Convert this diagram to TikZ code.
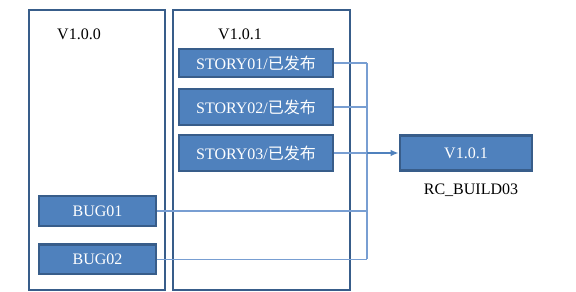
\documentclass[tikz,border=0pt]{standalone}
\usepackage{fontspec}
\setmainfont{Liberation Serif}
\newfontfamily\cjk{Noto Sans CJK SC}
\usepackage{tikz}
\usetikzlibrary{arrows.meta}
\definecolor{boxblue}{RGB}{79,129,189}
\definecolor{edgeblue}{RGB}{56,93,138}
\definecolor{wireblue}{RGB}{120,158,210}

\begin{document}
\begin{tikzpicture}[
        x=0.75pt, y=-0.75pt,
        verbox/.style={
            rectangle,
            draw=edgeblue,
            line width=2.2pt,
            inner sep=0pt
        },
        item/.style={
            rectangle,
            draw=edgeblue,
            fill=boxblue,
            line width=2pt,
            text=white,
            font=\fontsize{12}{14}\selectfont,
            inner sep=0pt
        },
        tag/.style={
            font=\fontsize{12}{14}\selectfont,
            inner sep=0pt
        },
        link/.style={wireblue, line width=0.8pt},
        arrow/.style={-{Latex[length=6pt,width=5pt]}, boxblue, line width=1.3pt}
    ]
        \useasboundingbox (0,0) rectangle (576,292);

        \node[verbox, minimum width=102pt, minimum height=210pt] (old) at (97,150) {};
        \node[verbox, minimum width=132.75pt, minimum height=210pt] (new) at (261.5,150) {};
        \node[tag] (oldname) at (79,34) {V1.0.0};
        \node[tag] (newname) at (240,34) {V1.0.1};

        \node[item, minimum width=115.5pt, minimum height=21pt] (s1) at (256,63) {STORY01/{\cjk 已发布}};
        \node[item, minimum width=115.5pt, minimum height=27pt] (s2) at (256,107) {STORY02/{\cjk 已发布}};
        \node[item, minimum width=115.5pt, minimum height=27pt] (s3) at (256,153) {STORY03/{\cjk 已发布}};
        \node[item, minimum width=87.75pt, minimum height=22.5pt] (b1) at (97.5,211) {BUG01};
        \node[item, minimum width=87.75pt, minimum height=22pt] (b2) at (97.5,259.5) {BUG02};

        \node[item, minimum width=99pt, minimum height=26pt] (rc) at (466,153) {V1.0.1};
        \node[tag] (rcname) at (471,190) {RC\_BUILD03};

        \coordinate (jn) at (367,153);

        \draw[link] (s1.east) -- (s1.east -| jn);
        \draw[link] (s2.east) -- (s2.east -| jn);
        \draw[link] (s3.east) -- (jn);
        \draw[link] (b1.east) -- (b1.east -| jn);
        \draw[link] (b2.east) -- (b2.east -| jn);
        \draw[link] (s1.east -| jn) -- (b2.east -| jn);
        \draw[arrow] (jn) -- (rc.west);
    \end{tikzpicture}
\end{document}
